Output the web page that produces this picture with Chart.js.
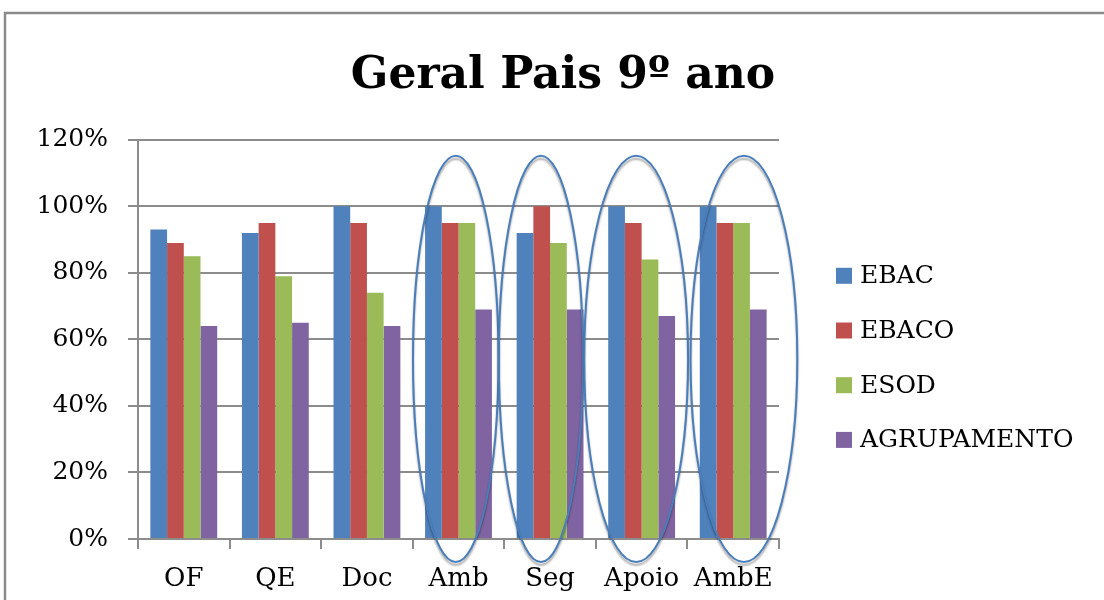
<!DOCTYPE html>
<html>
<head>
<meta charset="utf-8">
<script src="https://cdn.jsdelivr.net/npm/chart.js@4.4.1/dist/chart.umd.min.js"></script>
<style>
  html, body { margin: 0; padding: 0; background: #fff; }
  #wrap { width: 1104px; height: 600px; }
</style>
</head>
<body>
<div id="wrap"><canvas id="chart" width="1104" height="600"></canvas></div>
<script>
// Dados do gráfico
const categories = ['OF', 'QE', 'Doc', 'Amb', 'Seg', 'Apoio', 'AmbE'];
const seriesNames = ['EBAC', 'EBACO', 'ESOD', 'AGRUPAMENTO'];
const ebac = [0.93, 0.92, 1.00, 1.00, 0.92, 1.00, 1.00];
const ebaco = [0.89, 0.95, 0.95, 0.95, 1.00, 0.95, 0.95];
const esod = [0.85, 0.79, 0.74, 0.95, 0.89, 0.84, 0.95];
const agrupamento = [0.64, 0.65, 0.64, 0.69, 0.69, 0.67, 0.69];
const yTicks = [0, 0.2, 0.4, 0.6, 0.8, 1.0, 1.2];
// categorias assinaladas com elipses
const circled = ['Amb', 'Seg', 'Apoio', 'AmbE'];

const colors = ['#4F81BD', '#C0504D', '#9BBB59', '#8064A2'];
const gridColor = '#8c8c8c';
const serif = "'DejaVu Serif', serif";

// moldura exterior
const framePlugin = {
    id: 'frame',
    beforeDraw(chart) {
        const ctx = chart.ctx;
        ctx.save();
        ctx.fillStyle = '#fff';
        ctx.fillRect(0, 0, chart.width, chart.height);
        ctx.strokeStyle = '#8a8a8a';
        ctx.lineWidth = 2.5;
        ctx.strokeRect(5, 13, chart.width + 50, chart.height + 50);
        ctx.restore();
    }
};

// elipses à volta das categorias
const ellipsePlugin = {
    id: 'ellipses',
    afterDatasetsDraw(chart, args, opts) {
        const x = chart.scales.x, y = chart.scales.y;
        const ctx = chart.ctx;
        const catW = x.getPixelForValue(1) - x.getPixelForValue(0);
        ctx.save();
        opts.items.forEach(it => {
            const idx = categories.indexOf(it.cat);
            const cx = x.getPixelForValue(idx) + it.dx * catW;
            const top = y.getPixelForValue(opts.top);
            const bottom = y.getPixelForValue(opts.bottom);
            ctx.beginPath();
            ctx.ellipse(cx, (top + bottom) / 2, it.rx * catW, (bottom - top) / 2, 0, 0, Math.PI * 2);
            ctx.shadowColor = 'rgba(0,0,0,0.35)';
            ctx.shadowOffsetY = 3;
            ctx.shadowBlur = 2;
            ctx.strokeStyle = '#4a7ebb';
            ctx.lineWidth = 2;
            ctx.stroke();
        });
        ctx.restore();
    }
};

// legenda à direita
const legendPlugin = {
    id: 'sideLegend',
    afterDraw(chart) {
        const ctx = chart.ctx;
        const area = chart.chartArea;
        ctx.save();
        ctx.font = '25px ' + serif;
        ctx.textBaseline = 'middle';
        chart.data.datasets.forEach((ds, i) => {
            const cy = area.top + 136 + i * 54.7;
            ctx.fillStyle = ds.backgroundColor;
            ctx.fillRect(area.right + 57, cy - 8, 16, 16);
            ctx.fillStyle = '#000';
            ctx.fillText(ds.label, area.right + 81, cy + 1);
        });
        ctx.restore();
    }
};

const seriesData = [ebac, ebaco, esod, agrupamento];

new Chart(document.getElementById('chart'), {
    type: 'bar',
    data: {
        labels: categories,
        datasets: seriesNames.map((name, i) => ({
            label: name,
            data: seriesData[i],
            backgroundColor: colors[i],
            barPercentage: 1.0,
            categoryPercentage: 0.73
        }))
    },
    options: {
        responsive: false,
        animation: false,
        layout: { padding: { left: 22, right: 0, top: 0, bottom: 0 } },
        plugins: {
            legend: { display: false },
            tooltip: { enabled: false },
            title: {
                display: true,
                text: 'Geral Pais 9º ano',
                color: '#000',
                font: { family: serif, size: 44, weight: 'bold' },
                padding: { top: 50, bottom: 37 }
            },
            ellipses: {
                top: 1.152,
                bottom: -0.069,
                items: [
                    { cat: circled[0], dx: -0.03, rx: 0.467 },
                    { cat: circled[1], dx: -0.10, rx: 0.46 },
                    { cat: circled[2], dx: -0.06, rx: 0.567 },
                    { cat: circled[3], dx: 0.117, rx: 0.583 }
                ]
            }
        },
        scales: {
            x: {
                grid: {
                    offset: true,
                    drawOnChartArea: false,
                    drawTicks: true,
                    tickLength: 10,
                    color: gridColor,
                    lineWidth: 2
                },
                border: { color: gridColor, width: 2 },
                ticks: {
                    color: '#000',
                    font: { family: serif, size: 26 },
                    padding: 15,
                    maxRotation: 0
                },
                afterFit: s => { s.height = 61; }
            },
            y: {
                min: 0,
                max: 1.2,
                afterBuildTicks: s => { s.ticks = yTicks.map(v => ({ value: v })); },
                grid: {
                    color: gridColor,
                    lineWidth: 2,
                    tickLength: 10
                },
                border: { color: gridColor, width: 2 },
                ticks: {
                    color: '#000',
                    font: { family: serif, size: 25 },
                    padding: 20,
                    callback: v => Math.round(v * 100) + '%'
                },
                afterFit: s => { s.width = 116; }
            },
            // espaço reservado à legenda, à direita
            side: {
                position: 'right',
                display: true,
                grid: { display: false },
                border: { display: false },
                ticks: { display: false },
                afterFit: s => { s.width = 325; }
            }
        }
    },
    plugins: [framePlugin, ellipsePlugin, legendPlugin]
});
</script>
</body>
</html>
